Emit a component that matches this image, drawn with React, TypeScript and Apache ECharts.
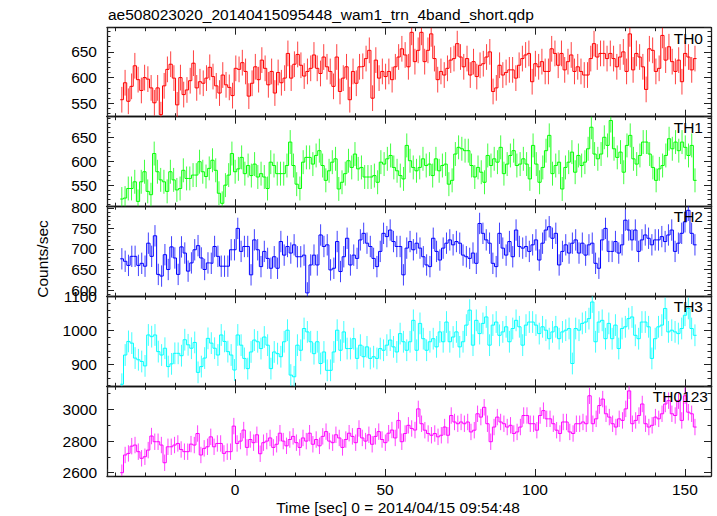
import React, { useEffect, useRef } from "react";
import * as echarts from "echarts";

const TITLE = "ae508023020_20140415095448_wam1_trn_4band_short.qdp";
const X_LABEL = "Time [sec] 0 = 2014/04/15 09:54:48";
const Y_LABEL = "Counts/sec";
const PANEL_NAMES = ["TH0", "TH1", "TH2", "TH3", "TH0123"];

// time span covered by the bins (seconds)
const T_START = -38.3;
const T_END = 153.9;
const X_MIN = -42.7;
const X_MAX = 158.7;
const X_TICK_STEP = 50;

// y ranges per panel
const Y_MIN = [524, 506, 585, 836, 2579];
const Y_MAX = [697, 693, 804, 1101, 3147];
const Y_TICK_STEP = [50, 50, 50, 100, 200];
const Y_MINOR_SPLIT = [5, 5, 5, 5, 2];
const ERRORS = [25, 25, 26, 32, 52];

const TH0 = [
  557, 590, 554, 583, 623, 596, 575, 600, 597, 580, 551, 580, 528, 584, 616, 626, 599, 547, 600, 567,
  576, 594, 628, 580, 592, 589, 599, 620, 602, 584, 570, 605, 586, 581, 565, 618, 616, 629, 612, 564,
  589, 621, 596, 634, 618, 586, 612, 570, 610, 590, 599, 647, 599, 626, 645, 624, 603, 612, 618, 644,
  618, 608, 640, 621, 612, 583, 640, 573, 599, 621, 557,
  612, 589, 621, 622, 637, 653, 560, 634, 599, 612, 602, 612, 596, 621, 640, 656, 644, 621, 688, 631,
  653, 688, 631, 653, 685, 637, 596, 612, 605, 618, 634, 637, 666, 640, 621, 637, 605, 631, 602, 624,
  627, 640, 650, 573, 580, 624, 605, 610, 615, 615, 599, 624, 637, 644, 647, 592, 627, 621, 631, 612,
  612, 656, 647, 624, 647, 615, 631, 644, 612, 621, 612, 605, 605, 637, 666, 640, 647, 647, 637, 647,
  637, 621, 640, 650, 612, 685, 615, 647, 640, 621, 577, 656, 653, 612, 618, 682, 634, 660, 631, 612,
  634, 592, 647, 640, 615, 637,
];

const TH1 = [
  521, 523, 543, 543, 557, 516, 557, 578, 537, 530, 616, 578, 561, 557, 537, 578, 561, 540, 543, 581,
  564, 564, 571, 571, 599, 578, 568, 585, 602, 581, 533, 512, 550, 571, 616, 578,
  584, 608, 574, 591, 570, 594, 567, 574, 567, 543, 598, 591, 574, 574, 574, 591, 640, 591, 552, 543,
  598, 608, 608, 594, 612, 622, 591, 560, 580, 598, 605, 542, 556, 574, 601, 587, 615, 584, 587, 567,
  567, 567, 570, 556, 598, 594, 605, 612, 587, 580, 570, 563, 633, 601, 587, 580, 587, 605, 591, 594,
  570, 605, 580, 591, 594, 552, 560, 615, 629, 626, 622, 622, 591, 567, 587, 577, 556, 612, 591, 605,
  598, 629, 574, 594, 612, 622, 591, 594, 605, 594, 563, 633, 594, 556, 587, 622, 654, 574, 591, 598,
  542, 587, 598, 619, 577, 612, 591, 598, 626, 671, 615, 605, 615, 650, 633, 685, 626, 608, 619, 577,
  633, 654, 605, 594, 612, 640, 640, 615, 587, 560, 584, 591, 612, 647, 626, 640, 622, 640, 629, 612,
  633, 560,
];

const TH2 = [
  676, 670, 660, 682, 682, 660, 665, 658, 714, 682, 732, 638, 634, 686, 650, 705, 678, 638, 705, 690,
  646, 666, 698, 708, 678, 650, 666, 665, 706, 682, 658, 658, 658, 698, 698, 750,
  694, 706, 706, 637, 722, 698, 657, 694, 677, 653, 681, 653, 718, 685, 706, 690, 710, 681, 681, 685,
  593, 661, 685, 661, 734, 706, 710, 649, 653, 718, 645, 681, 726, 661, 685, 677, 722, 738, 714, 706,
  677, 657, 694, 738, 730, 746, 718, 706, 706, 637, 702, 718, 698, 714, 702, 681, 661, 657, 726, 694,
  673, 702, 714, 722, 710, 718, 714, 685, 681, 677, 690, 665, 762, 738, 722, 714, 665, 657, 738, 702,
  685, 718, 681, 746, 706, 702, 706, 694, 710, 722, 673, 714, 746, 754, 726, 738, 661, 694, 710, 690,
  714, 722, 690, 714, 685, 710, 714, 665, 653, 722, 750, 694, 694, 718, 690, 710, 770, 746, 722, 746,
  694, 722, 734, 726, 710, 722, 722, 730, 718, 734, 746, 694, 714, 738, 766, 794, 738, 710,
];

const TH3 = [
  842, 928, 968, 963, 919, 914, 909, 896, 987, 982, 987, 938, 928, 948, 894, 902, 933, 933, 926, 973,
  958, 948, 965, 877, 894, 919, 977, 963, 948, 928, 987, 968, 938, 928, 884, 987,
  957, 918, 888, 937, 972, 967, 947, 981, 957, 888, 937, 932, 923, 967, 1001, 869, 864, 957, 942, 1006,
  996, 967, 932, 967, 903, 937, 883, 883, 937, 1001, 942, 996, 947, 947, 976, 918, 957, 923, 952, 918,
  923, 918, 947, 942, 957, 972, 952, 937, 991, 967, 942, 967, 1030, 942, 1021, 976, 942, 967, 976, 952,
  996, 967, 1025, 967, 981, 996, 952, 967, 1016, 1060, 957, 1030, 991, 1021, 1040, 957, 1016, 1025, 986, 996,
  1011, 967, 1006, 1030, 1011, 957, 1016, 1025, 1025, 1016, 991, 1011, 1001, 976, 996, 1011, 976, 996, 1001, 1006,
  903, 1006, 1001, 1021, 1025, 1035, 1084, 967, 1025, 1030, 976, 1021, 976, 1016, 947, 1006, 1011, 1035, 1040, 986,
  976, 1025, 1025, 1011, 918, 976, 1011, 1016, 1065, 996, 1001, 996, 991, 1006, 1045, 1065, 1006, 986,
];

const TH0123 = [
  2600, 2712, 2722, 2768, 2775, 2733, 2691, 2701, 2743, 2832, 2796, 2796, 2775, 2663, 2764, 2764, 2775, 2785, 2747, 2733,
  2733, 2781, 2775, 2848, 2712, 2754, 2764, 2827, 2764, 2785, 2785, 2722, 2733, 2733, 2895, 2785,
  2800, 2870, 2760, 2810, 2790, 2840, 2720, 2790, 2800, 2820, 2760, 2780, 2850, 2800, 2770, 2810, 2830, 2790, 2760, 2820,
  2800, 2850, 2780, 2810, 2770, 2830, 2860, 2800, 2790, 2840, 2820, 2760, 2810, 2850, 2830, 2790, 2880, 2820, 2800, 2840,
  2780, 2830, 2860, 2810, 2790, 2850, 2870, 2820,
  2931, 2796, 2848, 2900, 2880, 2870, 3004, 2910, 2869, 2848, 2837, 2848, 2827, 2837, 2889, 2837, 2962, 2921, 2910, 2921,
  2910, 2921, 2858, 2869, 2973, 2952, 3014, 2910, 2796, 2889, 2952, 2921, 2910, 2889, 2900, 2848, 2858, 2889, 2962, 2962,
  2910, 2910, 2869, 2962, 2993, 2941, 2941, 2910, 2869, 2848, 2921, 2921, 2858, 2848, 2910, 2910, 2921, 2910, 3087, 2910,
  2941, 3025, 3066, 2973, 2952, 2910, 2889, 2941, 2931, 3004, 3118, 2910, 2931, 2962, 3035, 2910, 2889, 2900, 2952, 2941,
  2973, 3035, 3056, 2973, 2962, 3056, 2931, 3087, 2983, 2973, 2889,
];

const PANELS = [TH0, TH1, TH2, TH3, TH0123];

// layout & style
const W = 717;
const H = 516;
const PLOT_LEFT = 107;
const PLOT_RIGHT = 711;
const BOUNDS = [27.7, 116.7, 206.2, 296.2, 386.3, 476];
const COLORS = ["#ff0000", "#00ff00", "#0000ff", "#00ffff", "#ff00ff"];
const LABEL_RIGHT = [703, 703, 703, 703, 708];
const FONT = "'Liberation Sans', Arial, Helvetica, sans-serif";
const FS = 15.5;
const FRAME_W = 1.3;

function isMultiple(v: number, step: number) {
  const r = Math.abs(v / step - Math.round(v / step));
  return r < 1e-6;
}

function buildOption() {
  const grids: any[] = [];
  const xAxes: any[] = [];
  const yAxes: any[] = [];
  const series: any[] = [];
  const graphics: any[] = [];

  PANELS.forEach((vals, i) => {
    const top = BOUNDS[i];
    const height = BOUNDS[i + 1] - BOUNDS[i];
    grids.push({
      left: PLOT_LEFT,
      right: W - PLOT_RIGHT,
      top,
      height,
      containLabel: false,
      outerBoundsMode: "none",
    });

    const tickStyle = { color: "#222", width: 1 };
    const makeX = (position: string, showLabel: boolean) => ({
      type: "value",
      gridIndex: i,
      position,
      min: X_MIN,
      max: X_MAX,
      minInterval: X_TICK_STEP,
      maxInterval: X_TICK_STEP,
      axisLine: { show: true, onZero: false, lineStyle: { color: "#111", width: FRAME_W } },
      axisTick: { show: true, inside: true, length: 7, lineStyle: tickStyle },
      minorTick: { show: true, splitNumber: 5, length: 3.5, lineStyle: tickStyle },
      splitLine: { show: false },
      minorSplitLine: { show: false },
      axisLabel: {
        show: showLabel,
        margin: 5,
        color: "#000",
        fontSize: FS,
        fontFamily: FONT,
        formatter: (v: number) => (isMultiple(v, X_TICK_STEP) ? String(Math.round(v)) : ""),
      },
    });
    const makeY = (position: string, showLabel: boolean) => ({
      type: "value",
      gridIndex: i,
      position,
      min: Y_MIN[i],
      max: Y_MAX[i],
      minInterval: Y_TICK_STEP[i],
      maxInterval: Y_TICK_STEP[i],
      axisLine: { show: true, onZero: false, lineStyle: { color: "#111", width: FRAME_W } },
      axisTick: { show: true, inside: true, length: 7, lineStyle: tickStyle },
      minorTick: { show: true, splitNumber: Y_MINOR_SPLIT[i], length: 3.5, lineStyle: tickStyle },
      splitLine: { show: false },
      minorSplitLine: { show: false },
      axisLabel: {
        show: showLabel,
        margin: 10,
        color: "#000",
        fontSize: FS,
        fontFamily: FONT,
        formatter: (v: number) => (isMultiple(v, Y_TICK_STEP[i]) ? String(Math.round(v)) : ""),
      },
    });
    xAxes.push(makeX("bottom", i === PANELS.length - 1), makeX("top", false));
    yAxes.push(makeY("left", true), makeY("right", false));

    const n = vals.length;
    const bin = (T_END - T_START) / n;
    const stepData: number[][] = vals.map((v, k) => [T_START + k * bin, v]);
    stepData.push([T_END, vals[n - 1]]);
    const errData = vals.map((v, k) => [T_START + (k + 0.5) * bin, v, ERRORS[i]]);
    const color = COLORS[i];

    series.push({
      type: "custom",
      xAxisIndex: 2 * i,
      yAxisIndex: 2 * i,
      clip: true,
      silent: true,
      z: 2,
      encode: { x: 0, y: 1 },
      data: errData,
      renderItem: (_p: any, api: any) => {
        const t = api.value(0);
        const v = api.value(1);
        const e = api.value(2);
        const a = api.coord([t, v - e]);
        const b = api.coord([t, v + e]);
        return {
          type: "line",
          shape: { x1: a[0], y1: a[1], x2: b[0], y2: b[1] },
          style: { stroke: color, lineWidth: 1, opacity: 0.75 },
        };
      },
    });
    series.push({
      type: "line",
      xAxisIndex: 2 * i,
      yAxisIndex: 2 * i,
      step: "end",
      data: stepData,
      showSymbol: false,
      symbol: "none",
      clip: true,
      silent: true,
      z: 3,
      lineStyle: { color, width: 1 },
      itemStyle: { color },
    });

    graphics.push({
      type: "text",
      x: LABEL_RIGHT[i],
      y: top + 10.5,
      style: {
        text: PANEL_NAMES[i],
        fill: "#000",
        fontSize: FS,
        fontFamily: FONT,
        align: "right",
        verticalAlign: "middle",
      },
      z: 10,
    });
  });

  graphics.push({
    type: "text",
    x: PLOT_LEFT + 1,
    y: 14.5,
    style: { text: TITLE, fill: "#000", fontSize: 15.5, fontFamily: FONT, align: "left", verticalAlign: "middle" },
  });
  graphics.push({
    type: "text",
    x: 398,
    y: 507,
    style: { text: X_LABEL, fill: "#000", fontSize: FS, fontFamily: FONT, align: "center", verticalAlign: "middle" },
  });
  graphics.push({
    type: "text",
    x: 42,
    y: 259,
    rotation: Math.PI / 2,
    style: { text: Y_LABEL, fill: "#000", fontSize: FS, fontFamily: FONT, align: "center", verticalAlign: "middle" },
  });

  return {
    animation: false,
    backgroundColor: "#ffffff",
    grid: grids,
    xAxis: xAxes,
    yAxis: yAxes,
    series,
    graphic: graphics,
  };
}

export default function App() {
  const ref = useRef<HTMLDivElement>(null);
  useEffect(() => {
    if (!ref.current) return;
    const chart = echarts.init(ref.current, null, { renderer: "svg" });
    chart.setOption(buildOption() as any);
    return () => chart.dispose();
  }, []);
  return (
    <div
      ref={ref}
      style={{ position: "fixed", left: 0, top: 0, width: W, height: H, background: "#fff" }}
    />
  );
}
